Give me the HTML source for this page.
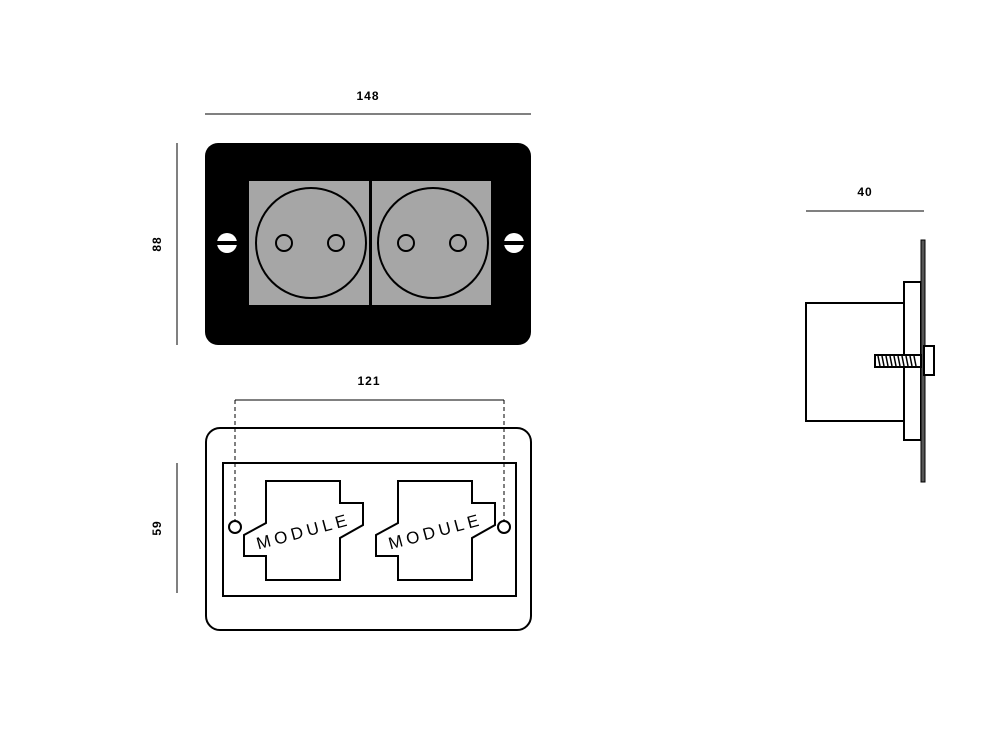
<!DOCTYPE html>
<html><head><meta charset="utf-8"><style>
html,body{margin:0;padding:0;background:#fff}
svg{display:block}
text{font-family:"Liberation Sans",sans-serif;font-weight:bold;font-size:12px;letter-spacing:1px}
.m{font-family:"Liberation Sans",sans-serif;font-weight:normal;font-size:17px;letter-spacing:4px}
</style></head><body>
<svg width="1000" height="749" viewBox="0 0 1000 749">
<!-- dims -->
<line x1="205" y1="114" x2="531" y2="114" stroke="#000" stroke-width="1"/>
<text x="368" y="100" text-anchor="middle">148</text>
<line x1="177" y1="143" x2="177" y2="345" stroke="#000" stroke-width="1"/>
<text transform="translate(161,244) rotate(-90)" text-anchor="middle">88</text>
<line x1="177" y1="463" x2="177" y2="593" stroke="#000" stroke-width="1"/>
<text transform="translate(161,528) rotate(-90)" text-anchor="middle">59</text>
<line x1="806" y1="211" x2="924" y2="211" stroke="#000" stroke-width="1"/>
<text x="865" y="196" text-anchor="middle">40</text>
<line x1="235" y1="400" x2="504" y2="400" stroke="#000" stroke-width="1"/>
<text x="369" y="385" text-anchor="middle">121</text>
<!-- front -->
<rect x="205" y="143" width="326" height="202" rx="13" fill="#000"/>
<rect x="249" y="181" width="120" height="124" fill="#a6a6a6"/>
<rect x="372" y="181" width="119" height="124" fill="#a6a6a6"/>
<g fill="none" stroke="#000" stroke-width="2">
<circle cx="311" cy="243" r="55"/><circle cx="433" cy="243" r="55"/>
<circle cx="284" cy="243" r="8"/><circle cx="336" cy="243" r="8"/>
<circle cx="406" cy="243" r="8"/><circle cx="458" cy="243" r="8"/>
</g>
<circle cx="227" cy="243" r="10" fill="#fff"/><rect x="216" y="241" width="22" height="4" fill="#000"/>
<circle cx="514" cy="243" r="10" fill="#fff"/><rect x="503" y="241" width="22" height="4" fill="#000"/>
<!-- back -->
<rect x="206" y="428" width="325" height="202" rx="14" fill="none" stroke="#000" stroke-width="2"/>
<rect x="223" y="463" width="293" height="133" fill="none" stroke="#000" stroke-width="2"/>
<g stroke="#000" stroke-width="1" stroke-dasharray="4,3">
<line x1="235" y1="400" x2="235" y2="521"/><line x1="504" y1="400" x2="504" y2="521"/>
</g>
<circle cx="235" cy="527" r="6" fill="#fff" stroke="#000" stroke-width="2"/>
<circle cx="504" cy="527" r="6" fill="#fff" stroke="#000" stroke-width="2"/>
<path id="mod" d="M266 481H340V503H363V525L340 538V580H266V556H244V535L266 523Z" fill="none" stroke="#000" stroke-width="2"/>
<path d="M398 481H472V503H495V525L472 538V580H398V556H376V535L398 523Z" fill="none" stroke="#000" stroke-width="2"/>
<text class="m" transform="translate(305,537) rotate(-15)" text-anchor="middle">MODULE</text>
<text class="m" transform="translate(437,537) rotate(-15)" text-anchor="middle">MODULE</text>
<!-- side -->
<rect x="806" y="303" width="98" height="118" fill="#fff" stroke="#000" stroke-width="2"/>
<rect x="904" y="282" width="17" height="158" fill="#fff" stroke="#000" stroke-width="2"/>
<rect x="921" y="240" width="4" height="242" fill="#555" stroke="#000" stroke-width="1"/>
<rect x="924" y="346" width="10" height="29" fill="#fff" stroke="#000" stroke-width="2"/>
<rect x="875" y="355" width="46" height="12" fill="#fff" stroke="#000" stroke-width="2"/>
<g stroke="#000" stroke-width="1.5">
<line x1="878" y1="356" x2="880" y2="366"/><line x1="882" y1="356" x2="884" y2="366"/><line x1="886" y1="356" x2="888" y2="366"/><line x1="890" y1="356" x2="892" y2="366"/><line x1="894" y1="356" x2="896" y2="366"/><line x1="898" y1="356" x2="900" y2="366"/><line x1="902" y1="356" x2="904" y2="366"/><line x1="906" y1="356" x2="908" y2="366"/><line x1="910" y1="356" x2="912" y2="366"/><line x1="914" y1="356" x2="916" y2="366"/>
</g>
</svg>
</body></html>
